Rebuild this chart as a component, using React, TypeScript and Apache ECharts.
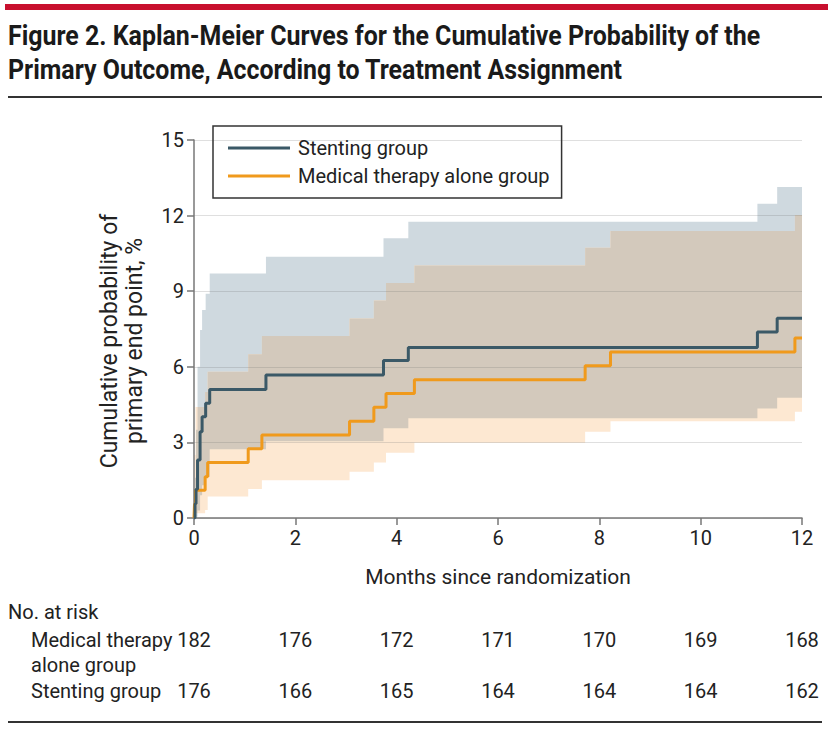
import React, { useEffect, useRef } from "react";
import * as echarts from "echarts";

// ---- Data ----
const riskMonths = [0, 2, 4, 6, 8, 10, 12];
const atRiskMedical = [182, 176, 172, 171, 170, 169, 168];
const atRiskStenting = [176, 166, 165, 164, 164, 164, 162];

const stentTimes = [0, 0.02, 0.04, 0.07, 0.12, 0.16, 0.23, 0.31, 1.42, 3.74, 4.23, 11.12, 11.51, 12];
const stentEst = [0, 0.57, 1.14, 2.3, 3.42, 4.02, 4.55, 5.1, 5.67, 6.25, 6.77, 7.38, 7.93, 7.93];
const stentUpper = [0, 1.6, 3.5, 6.0, 7.46, 8.25, 8.9, 9.7, 10.37, 11.1, 11.76, 12.47, 13.13, 13.13];
const stentLower = [0, 0, 0.05, 0.3, 0.9, 1.3, 1.64, 2.73, 3.05, 3.56, 3.96, 4.35, 4.77, 4.77];

const medTimes = [0, 0.01, 0.03, 0.22, 0.27, 1.07, 1.34, 3.07, 3.55, 3.79, 4.35, 7.72, 8.22, 11.86, 12];
const medEst = [0, 0.55, 1.1, 1.64, 2.2, 2.75, 3.29, 3.84, 4.39, 4.94, 5.49, 6.04, 6.59, 7.14, 7.14];
const medUpper = [0, 2.5, 4.4, 5.0, 5.8, 6.5, 7.22, 7.92, 8.63, 9.33, 10.02, 10.72, 11.39, 12.02, 12.02];
const medLower = [0, 0.05, 0.19, 0.32, 0.85, 1.15, 1.5, 1.84, 2.2, 2.59, 2.99, 3.42, 3.84, 4.22, 4.22];

const xTicks = { min: 0, max: 12, interval: 2 };
const yTicks = { min: 0, max: 15, interval: 3 };

const titleLines = [
  "Figure 2. Kaplan-Meier Curves for the Cumulative Probability of the",
  "Primary Outcome, According to Treatment Assignment",
];
const yAxisTitle = "Cumulative probability of\nprimary end point, %";
const xAxisTitle = "Months since randomization";

// ---- Styles ----
const BODY_FONT = "Roboto, 'Liberation Sans', sans-serif";
const TITLE_FONT = "Roboto, 'Liberation Sans', sans-serif";
const TITLE_SIZE = 28;
const TITLE_TARGET_WIDTH = 752;
const C_STENT = "#3b5967";
const C_MED = "#f09a1c";
const C_STENT_BAND = "#cfd9df";
const C_MED_BAND = "#fde8d2";
const C_OVERLAP = "#d3c9bc";
const TEXT = "#222222";

function valueAt(times: number[], vals: number[], t: number) {
  let v = vals[0];
  for (let i = 0; i < times.length; i++) {
    if (times[i] <= t + 1e-9) v = vals[i];
  }
  return v;
}

function stepPolygon(times: number[], up: number[], lo: number[], api: any) {
  const pts: number[][] = [];
  const n = times.length;
  for (let i = 0; i < n - 1; i++) {
    pts.push(api.coord([times[i], up[i]]));
    pts.push(api.coord([times[i + 1], up[i]]));
  }
  for (let i = n - 2; i >= 0; i--) {
    pts.push(api.coord([times[i + 1], lo[i]]));
    pts.push(api.coord([times[i], lo[i]]));
  }
  return pts;
}

function overlapArrays() {
  const all = Array.from(new Set([...stentTimes, ...medTimes])).sort((a, b) => a - b);
  const up: number[] = [];
  const lo: number[] = [];
  all.forEach((t) => {
    const u = Math.min(valueAt(stentTimes, stentUpper, t), valueAt(medTimes, medUpper, t));
    const l = Math.max(valueAt(stentTimes, stentLower, t), valueAt(medTimes, medLower, t));
    up.push(Math.max(u, l));
    lo.push(l);
  });
  return { times: all, up, lo };
}

function titleScale() {
  try {
    const c = document.createElement("canvas").getContext("2d");
    if (!c) return 0.8;
    c.font = `bold ${TITLE_SIZE}px ${TITLE_FONT}`;
    const w = c.measureText(titleLines[0]).width;
    if (!w) return 0.8;
    return Math.min(1, TITLE_TARGET_WIDTH / w);
  } catch (e) {
    return 0.8;
  }
}

export default function App() {
  const ref = useRef<HTMLDivElement>(null);

  useEffect(() => {
    if (!ref.current) return;
    const chart = echarts.init(ref.current, undefined, { renderer: "svg" });
    const ov = overlapArrays();
    const sx = titleScale();

    const rowY = [640, 691];
    const riskData: number[][] = [];
    riskMonths.forEach((m, i) => {
      riskData.push([m, 0, atRiskMedical[i], 0]);
      riskData.push([m, 0, atRiskStenting[i], 1]);
    });

    const titleText = (text: string, y: number) => ({
      type: "text",
      x: 8,
      y,
      scaleX: sx,
      originX: 0,
      originY: 0,
      style: {
        text,
        x: 0,
        y: 0,
        fill: "#1a1a1a",
        fontSize: TITLE_SIZE,
        fontWeight: "bold",
        fontFamily: TITLE_FONT,
        align: "left",
        verticalAlign: "middle",
        textAlign: "left",
        textVerticalAlign: "middle",
      },
    });

    const plainText = (text: string, x: number, y: number) => ({
      type: "text",
      x,
      y,
      style: {
        text,
        x: 0,
        y: 0,
        fill: TEXT,
        fontSize: 20,
        fontFamily: BODY_FONT,
        align: "left",
        verticalAlign: "middle",
        textAlign: "left",
        textVerticalAlign: "middle",
      },
    });

    chart.setOption({
      animation: false,
      backgroundColor: "#ffffff",
      textStyle: { fontFamily: BODY_FONT },
      grid: { left: 194, right: 30, top: 140, bottom: 218, containLabel: false },
      legend: {
        left: 213,
        top: 126,
        orient: "vertical",
        padding: [12, 12, 12, 15],
        itemGap: 8,
        itemWidth: 62,
        itemHeight: 3,
        icon: "rect",
        borderColor: "#333333",
        borderWidth: 1.5,
        textStyle: { fontSize: 20, color: TEXT, fontFamily: BODY_FONT, padding: [0, 0, 0, 3] },
        data: ["Stenting group", "Medical therapy alone group"],
      },
      xAxis: {
        type: "value",
        min: xTicks.min,
        max: xTicks.max,
        interval: xTicks.interval,
        name: xAxisTitle,
        nameLocation: "middle",
        nameGap: 48,
        nameTextStyle: { fontSize: 21, color: TEXT, fontFamily: BODY_FONT },
        axisLine: { show: true, lineStyle: { color: "#777777", width: 1.5 } },
        axisTick: { show: true, length: 7, lineStyle: { color: "#777777", width: 1.5 } },
        axisLabel: { fontSize: 20, color: TEXT, margin: 10, fontFamily: BODY_FONT },
        splitLine: { show: false },
      },
      yAxis: {
        type: "value",
        min: yTicks.min,
        max: yTicks.max,
        interval: yTicks.interval,
        axisLine: { show: true, lineStyle: { color: "#777777", width: 1.5 } },
        axisTick: { show: true, length: 7, lineStyle: { color: "#777777", width: 1.5 } },
        axisLabel: { fontSize: 20, color: TEXT, margin: 10, fontFamily: BODY_FONT },
        splitLine: { show: true, lineStyle: { color: "rgba(110,110,110,0.22)", width: 1.2 } },
      },
      graphic: [
        { type: "rect", left: 5, top: 4, shape: { width: 823, height: 6 }, style: { fill: "#c8102e" } },
        titleText(titleLines[0], 35),
        titleText(titleLines[1], 69),
        { type: "rect", left: 8, top: 96, shape: { width: 814, height: 2 }, style: { fill: "#333333" } },
        {
          type: "text",
          x: 122,
          y: 341,
          rotation: Math.PI / 2,
          style: {
            text: yAxisTitle,
            x: 0,
            y: 0,
            fill: TEXT,
            fontSize: 23,
            lineHeight: 25,
            fontFamily: BODY_FONT,
            align: "center",
            verticalAlign: "middle",
            textAlign: "center",
            textVerticalAlign: "middle",
          },
        },
        plainText("No. at risk", 8, 612),
        plainText("Medical therapy", 31, 640),
        plainText("alone group", 31, 665),
        plainText("Stenting group", 31, 691),
        { type: "rect", left: 8, top: 721, shape: { width: 814, height: 2 }, style: { fill: "#333333" } },
      ],
      series: [
        {
          type: "custom",
          name: "bands",
          z: -1,
          silent: true,
          clip: true,
          data: [[0, 0], [0, 0], [0, 0]],
          renderItem: (params: any, api: any) => {
            const idx = params.dataIndex;
            let pts: number[][];
            let fill: string;
            if (idx === 0) {
              pts = stepPolygon(stentTimes, stentUpper, stentLower, api);
              fill = C_STENT_BAND;
            } else if (idx === 1) {
              pts = stepPolygon(medTimes, medUpper, medLower, api);
              fill = C_MED_BAND;
            } else {
              pts = stepPolygon(ov.times, ov.up, ov.lo, api);
              fill = C_OVERLAP;
            }
            return { type: "polygon", shape: { points: pts }, style: { fill, stroke: null } };
          },
        },
        {
          type: "line",
          name: "Stenting group",
          step: "end",
          showSymbol: false,
          symbol: "none",
          color: C_STENT,
          lineStyle: { color: C_STENT, width: 3 },
          data: stentTimes.map((t, i) => [t, stentEst[i]]),
          z: 4,
        },
        {
          type: "line",
          name: "Medical therapy alone group",
          step: "end",
          showSymbol: false,
          symbol: "none",
          color: C_MED,
          lineStyle: { color: C_MED, width: 3 },
          data: medTimes.map((t, i) => [t, medEst[i]]),
          z: 3,
        },
        {
          type: "custom",
          name: "atrisk",
          silent: true,
          clip: false,
          data: riskData,
          renderItem: (params: any, api: any) => {
            const x = api.coord([api.value(0), 0])[0];
            const row = api.value(3);
            return {
              type: "text",
              x,
              y: rowY[row],
              style: {
                text: String(api.value(2)),
                fill: TEXT,
                fontSize: 20,
                fontFamily: BODY_FONT,
                align: "center",
                verticalAlign: "middle",
                textAlign: "center",
                textVerticalAlign: "middle",
              },
            };
          },
        },
      ],
    });

    return () => chart.dispose();
  }, []);

  return (
    <div
      ref={ref}
      style={{ position: "fixed", left: 0, top: 0, width: 832, height: 736, background: "#fff" }}
    />
  );
}
